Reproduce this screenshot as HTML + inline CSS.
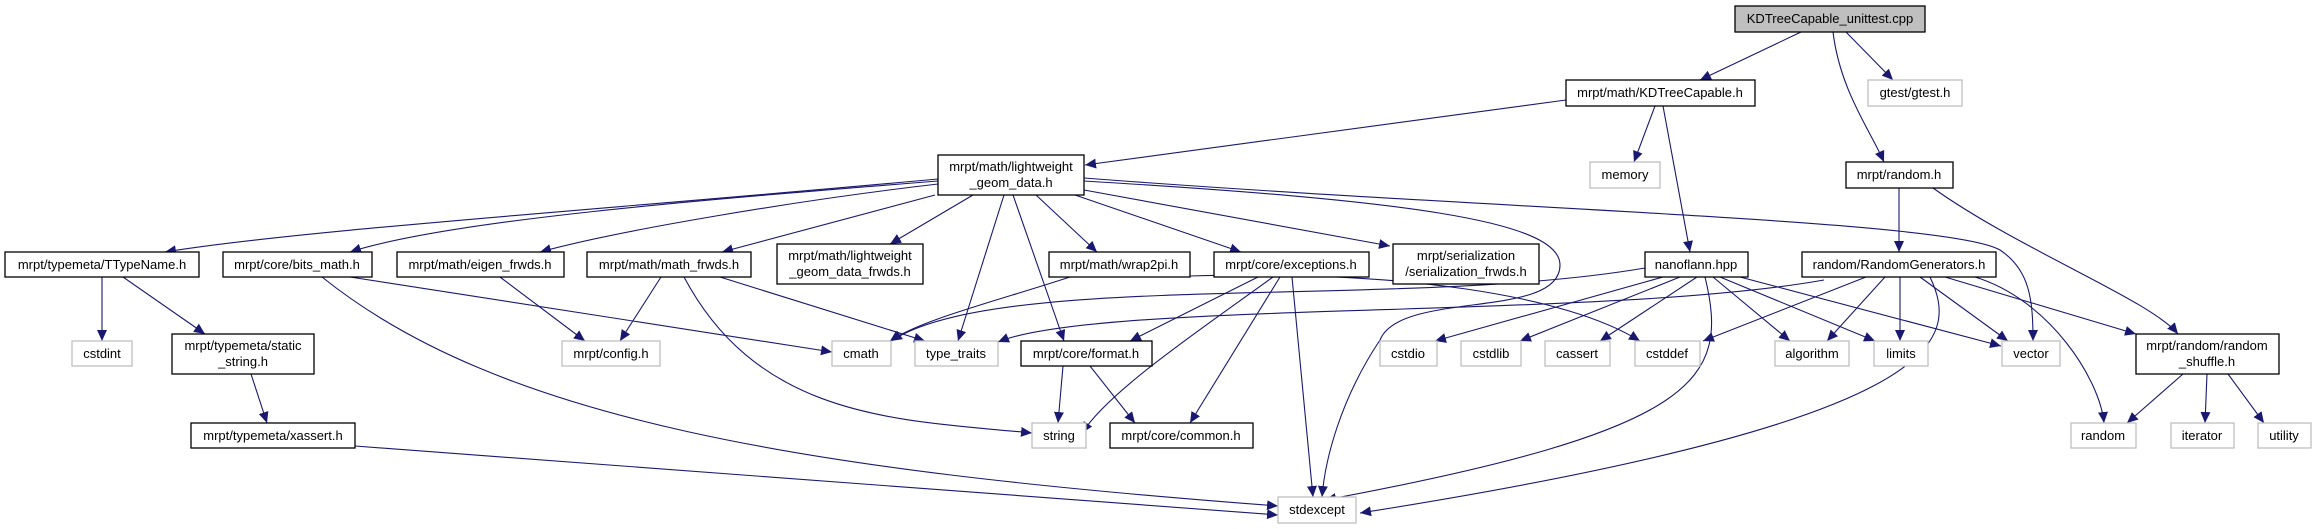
<!DOCTYPE html>
<html><head><meta charset="utf-8"><style>
html,body{margin:0;padding:0;background:#fff;}
svg{display:block;}
text{font-family:"Liberation Sans",Helvetica,sans-serif;font-size:13px;fill:#000;text-anchor:middle;}
.n{fill:#fff;stroke:#000;stroke-width:1.3;}
.g{fill:#fff;stroke:#bfbfbf;stroke-width:1.3;}
.e{fill:none;stroke:#191970;stroke-width:1.1;}
</style></head><body>
<svg width="2317" height="529" viewBox="0 0 2317 529" xmlns="http://www.w3.org/2000/svg">
<defs><marker id="a" markerUnits="userSpaceOnUse" markerWidth="12" markerHeight="10" refX="11" refY="5" orient="auto"><path d="M0,0 L11,5 L0,10 z" fill="#191970"/></marker></defs>
<g marker-end="url(#a)">
<path class="e" d="M1801,32 L1700,80"/>
<path class="e" d="M1846,32 L1893,80"/>
<path class="e" d="M1833,32 C1840,90 1870,130 1884,162"/>
<path class="e" d="M1566,100 L1085,165"/>
<path class="e" d="M1655,106 L1634,162"/>
<path class="e" d="M1663,106 L1690,252"/>
<path class="e" d="M1899,188 L1899,252"/>
<path class="e" d="M1933,188 C2020,250 2150,300 2178,334"/>
<path class="e" d="M938,179 C600,210 300,230 165,252"/>
<path class="e" d="M938,181 C700,200 450,220 350,252"/>
<path class="e" d="M938,184 C800,200 620,230 540,252"/>
<path class="e" d="M935,195 L722,252"/>
<path class="e" d="M973,195 L890,244"/>
<path class="e" d="M1004,195 L958,341"/>
<path class="e" d="M1013,195 L1064,341"/>
<path class="e" d="M1036,195 L1097,252"/>
<path class="e" d="M1075,195 L1241,252"/>
<path class="e" d="M1084,190 L1390,246"/>
<path class="e" d="M1084,181 C1400,200 1560,220 1560,265 C1560,320 1400,290 1380,340 C1340,400 1325,460 1322,497"/>
<path class="e" d="M1084,178 C1500,210 1950,220 2000,250 C2030,270 2033,300 2033,341"/>
<path class="e" d="M102,277 L102,341"/>
<path class="e" d="M123,277 L205,334"/>
<path class="e" d="M251,374 L267,423"/>
<path class="e" d="M355,446 L1278,515"/>
<path class="e" d="M322,277 C500,420 800,470 1278,506"/>
<path class="e" d="M350,277 L832,352"/>
<path class="e" d="M500,277 L585,341"/>
<path class="e" d="M661,277 L620,341"/>
<path class="e" d="M720,277 L925,341"/>
<path class="e" d="M684,277 C760,420 900,420 1032,433"/>
<path class="e" d="M1070,277 C1000,300 920,320 890,341"/>
<path class="e" d="M1190,276 C1400,270 1566,295 1640,341"/>
<path class="e" d="M1258,277 L1130,341"/>
<path class="e" d="M1273,277 C1200,330 1110,390 1082,433"/>
<path class="e" d="M1280,277 L1190,423"/>
<path class="e" d="M1292,277 L1313,497"/>
<path class="e" d="M1063,366 L1058,423"/>
<path class="e" d="M1090,366 L1135,423"/>
<path class="e" d="M1645,268 C1400,310 1000,270 891,341"/>
<path class="e" d="M1824,280 C1600,320 1100,300 998,342"/>
<path class="e" d="M1663,277 L1435,341"/>
<path class="e" d="M1680,277 L1520,341"/>
<path class="e" d="M1697,277 L1600,341"/>
<path class="e" d="M1705,277 C1730,380 1700,430 1325,500"/>
<path class="e" d="M1713,277 L1790,341"/>
<path class="e" d="M1720,277 L1875,341"/>
<path class="e" d="M1740,277 L2001,346"/>
<path class="e" d="M1866,277 L1703,341"/>
<path class="e" d="M1885,277 L1827,341"/>
<path class="e" d="M1900,277 L1900,341"/>
<path class="e" d="M1920,277 L2008,341"/>
<path class="e" d="M1945,277 L2136,334"/>
<path class="e" d="M1975,277 C2050,300 2100,380 2104,423"/>
<path class="e" d="M1930,277 C1960,340 1950,420 1360,513"/>
<path class="e" d="M2183,374 L2127,423"/>
<path class="e" d="M2207,374 L2205,423"/>
<path class="e" d="M2228,374 L2264,423"/>
</g>
<rect x="1735" y="6" width="190" height="26" fill="#bfbfbf" stroke="#000" stroke-width="1.3"/><text x="1830" y="23">KDTreeCapable_unittest.cpp</text>
<rect class="n" x="1566" y="80" width="189" height="26"/><text x="1660" y="97">mrpt/math/KDTreeCapable.h</text>
<rect class="g" x="1868" y="80" width="94" height="26"/><text x="1915" y="97">gtest/gtest.h</text>
<rect class="g" x="1590" y="162" width="70" height="26"/><text x="1625" y="179">memory</text>
<rect class="n" x="1846" y="162" width="107" height="26"/><text x="1899" y="179">mrpt/random.h</text>
<rect class="n" x="938" y="155" width="146" height="40"/><text x="1011" y="171">mrpt/math/lightweight</text><text x="1011" y="187">_geom_data.h</text>
<rect class="n" x="5" y="252" width="194" height="25"/><text x="102" y="269">mrpt/typemeta/TTypeName.h</text>
<rect class="n" x="223" y="252" width="149" height="25"/><text x="297" y="269">mrpt/core/bits_math.h</text>
<rect class="n" x="397" y="252" width="167" height="25"/><text x="480" y="269">mrpt/math/eigen_frwds.h</text>
<rect class="n" x="587" y="252" width="164" height="25"/><text x="669" y="269">mrpt/math/math_frwds.h</text>
<rect class="n" x="777" y="244" width="146" height="40"/><text x="850" y="260">mrpt/math/lightweight</text><text x="850" y="276">_geom_data_frwds.h</text>
<rect class="n" x="1049" y="252" width="141" height="25"/><text x="1119" y="269">mrpt/math/wrap2pi.h</text>
<rect class="n" x="1214" y="252" width="155" height="25"/><text x="1291" y="269">mrpt/core/exceptions.h</text>
<rect class="n" x="1393" y="244" width="146" height="40"/><text x="1466" y="260">mrpt/serialization</text><text x="1466" y="276">/serialization_frwds.h</text>
<rect class="n" x="1645" y="252" width="103" height="25"/><text x="1696" y="269">nanoflann.hpp</text>
<rect class="n" x="1802" y="252" width="194" height="25"/><text x="1899" y="269">random/RandomGenerators.h</text>
<rect class="g" x="72" y="341" width="60" height="25"/><text x="102" y="358">cstdint</text>
<rect class="n" x="172" y="334" width="142" height="40"/><text x="243" y="350">mrpt/typemeta/static</text><text x="243" y="366">_string.h</text>
<rect class="g" x="562" y="341" width="98" height="25"/><text x="611" y="358">mrpt/config.h</text>
<rect class="g" x="832" y="341" width="59" height="25"/><text x="861" y="358">cmath</text>
<rect class="g" x="915" y="341" width="83" height="25"/><text x="956" y="358">type_traits</text>
<rect class="n" x="1021" y="341" width="131" height="25"/><text x="1086" y="358">mrpt/core/format.h</text>
<rect class="g" x="1380" y="341" width="57" height="25"/><text x="1408" y="358">cstdio</text>
<rect class="g" x="1461" y="341" width="60" height="25"/><text x="1491" y="358">cstdlib</text>
<rect class="g" x="1545" y="341" width="65" height="25"/><text x="1577" y="358">cassert</text>
<rect class="g" x="1635" y="341" width="65" height="25"/><text x="1667" y="358">cstddef</text>
<rect class="g" x="1775" y="341" width="74" height="25"/><text x="1812" y="358">algorithm</text>
<rect class="g" x="1874" y="341" width="54" height="25"/><text x="1901" y="358">limits</text>
<rect class="g" x="2002" y="341" width="58" height="25"/><text x="2031" y="358">vector</text>
<rect class="n" x="2136" y="334" width="143" height="40"/><text x="2207" y="350">mrpt/random/random</text><text x="2207" y="366">_shuffle.h</text>
<rect class="n" x="191" y="423" width="164" height="25"/><text x="273" y="440">mrpt/typemeta/xassert.h</text>
<rect class="g" x="1032" y="423" width="54" height="25"/><text x="1059" y="440">string</text>
<rect class="n" x="1110" y="423" width="143" height="25"/><text x="1181" y="440">mrpt/core/common.h</text>
<rect class="g" x="2071" y="423" width="65" height="25"/><text x="2103" y="440">random</text>
<rect class="g" x="2171" y="423" width="63" height="25"/><text x="2202" y="440">iterator</text>
<rect class="g" x="2258" y="423" width="53" height="25"/><text x="2284" y="440">utility</text>
<rect class="g" x="1278" y="497" width="78" height="26"/><text x="1317" y="514">stdexcept</text>
</svg>
</body></html>
